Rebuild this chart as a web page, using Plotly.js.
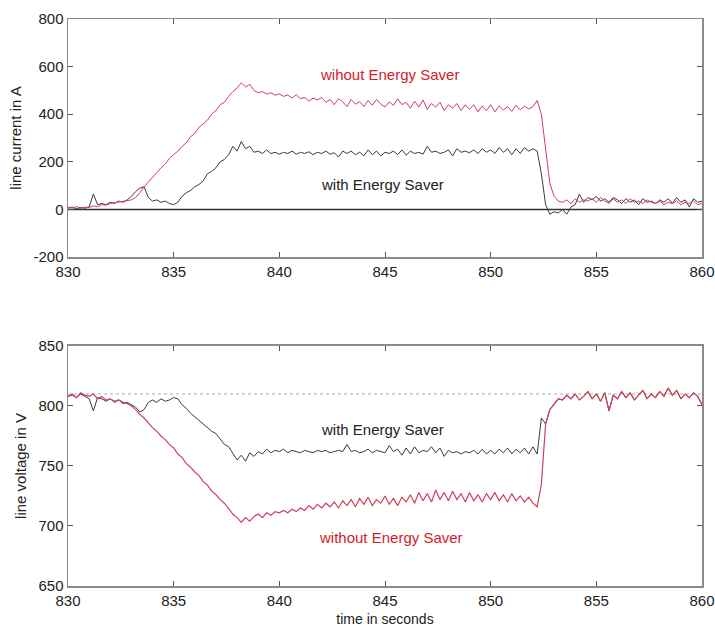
<!DOCTYPE html>
<html>
<head>
<meta charset="utf-8">
<script src="https://cdn.plot.ly/plotly-3.0.1.min.js"></script>
<style>html,body{margin:0;padding:0;background:#fff;}#chart{width:715px;height:627px;}</style>
</head>
<body>
<div id="chart"></div>
<script>
// time grid: 830.0 s to 860.0 s, sampled every 0.2 s (151 samples)
const tStart = 830, tStep = 0.2, nSamples = 151;

// line current in A, without Energy Saver
const currentWithout = [
 10,5,12,4,10,8,15,12,20,18,
 25,28,30,32,36,40,50,70,95,115,
 135,155,175,190,215,230,245,265,280,305,
 320,345,360,375,400,415,440,450,475,495,
 510,532,515,525,500,490,495,485,490,480,
 485,475,480,468,482,465,470,455,468,460,
 470,450,462,440,465,452,432,462,442,452,
 432,458,438,462,442,430,452,437,465,440,
 450,425,455,430,460,420,445,430,450,415,
 440,425,445,415,440,420,440,410,435,415,
 440,410,435,418,432,412,438,418,434,422,
 432,458,400,250,110,55,35,30,40,25,
 45,30,40,35,45,30,50,35,25,45,
 30,40,25,45,30,35,25,40,30,25,
 35,20,30,25,35,20,30,25,35,20,25
];

// line current in A, with Energy Saver
const currentWith = [
 5,10,3,8,5,10,65,20,25,20,
 30,25,35,30,40,55,75,90,95,50,
 35,40,30,35,25,20,30,55,70,80,
 95,105,120,150,160,175,200,210,230,265,
 245,285,255,265,240,245,235,250,235,240,
 232,240,235,245,232,240,235,242,230,240,
 235,245,232,238,220,245,235,245,230,240,
 225,250,230,245,225,240,235,245,230,250,
 228,245,235,240,232,265,240,245,235,240,
 250,225,255,240,245,238,250,235,255,240,
 250,235,260,240,255,230,255,235,260,245,
 255,245,150,20,-20,-10,-15,0,-20,10,
 20,65,30,50,40,55,35,45,30,50,
 40,25,45,30,40,20,45,30,35,25,
 40,30,45,25,50,30,40,10,45,30,35
];

// line voltage in V, without Energy Saver
const voltageWithout = [
 808,810,807,811,809,808,810,806,808,805,
 806,804,805,803,802,800,797,793,790,786,
 782,779,775,772,768,765,760,757,752,749,
 745,742,737,734,729,726,722,719,714,710,
 707,703,707,704,708,710,707,711,709,712,
 711,713,711,714,712,715,713,717,714,718,
 715,719,716,720,715,721,717,722,716,723,
 718,724,717,722,719,725,718,723,717,724,
 720,726,719,728,721,727,720,730,722,728,
 721,729,722,727,720,728,721,726,720,727,
 722,728,721,726,720,727,721,725,720,724,
 719,716,735,785,797,802,806,805,809,806,
 810,805,808,812,806,810,804,811,796,809,
 806,812,807,811,805,809,813,806,810,807,
 812,808,815,809,813,806,810,807,811,808,801
];

// line voltage in V, with Energy Saver
const voltageWith = [
 808,809,807,810,808,806,796,807,806,804,
 806,803,805,802,803,801,799,795,797,803,
 805,803,806,804,805,807,806,801,798,794,
 791,788,785,782,779,777,772,768,766,760,
 755,759,754,761,758,762,760,764,761,763,
 762,764,761,763,762,761,763,762,761,763,
 762,763,761,762,763,762,768,762,763,761,
 762,764,761,763,762,761,767,762,764,759,
 765,760,766,761,763,762,766,761,765,758,
 763,761,762,760,762,761,763,760,764,760,
 763,760,764,761,765,760,764,761,765,760,
 766,760,790,785,797,802,806,805,809,806,
 810,805,808,812,806,810,804,811,796,809,
 806,812,807,811,805,809,813,806,810,807,
 812,808,815,809,813,806,810,807,811,808,801
];

const nominalVoltage = 810;
const xTicks = [830, 835, 840, 845, 850, 855, 860];
const currentTicks = [-200, 0, 200, 400, 600, 800];
const voltageTicks = [650, 700, 750, 800, 850];

const time = [];
for (let i = 0; i < nSamples; i++) time.push(+(tStart + i * tStep).toFixed(1));

const RED = '#d0405a';
const DARK = '#3a3a3a';
const TXTRED = '#d4202c';

const traces = [
  {x: time, y: currentWith, xaxis: 'x', yaxis: 'y', mode: 'lines', line: {color: DARK, width: 1}, hoverinfo: 'skip'},
  {x: time, y: currentWithout, xaxis: 'x', yaxis: 'y', mode: 'lines', line: {color: RED, width: 1}, hoverinfo: 'skip'},
  {x: time, y: voltageWith, xaxis: 'x2', yaxis: 'y2', mode: 'lines', line: {color: DARK, width: 1}, hoverinfo: 'skip'},
  {x: time, y: voltageWithout, xaxis: 'x2', yaxis: 'y2', mode: 'lines', line: {color: RED, width: 1.2}, hoverinfo: 'skip'}
];

const FONT = 'Liberation Sans, Arial, sans-serif';
const axisCommon = {
  showline: true, linecolor: '#8a8a8a', linewidth: 1.5, mirror: 'ticks',
  ticks: 'inside', ticklen: 5, tickcolor: '#555', tickwidth: 1,
  showgrid: false, zeroline: false,
  tickfont: {family: FONT, size: 15, color: '#222'}
};

const layout = {
  width: 715, height: 627,
  margin: {l: 68, r: 13, t: 19, b: 41},
  paper_bgcolor: '#fff', plot_bgcolor: '#fff',
  showlegend: false,
  font: {family: FONT, color: '#222'},
  xaxis: Object.assign({}, axisCommon, {anchor: 'y', range: [830, 860], tickvals: xTicks, ticktext: xTicks.map(String)}),
  yaxis: Object.assign({}, axisCommon, {domain: [0.5802, 1], anchor: 'x', range: [-200, 800], tickvals: currentTicks, ticktext: currentTicks.map(String),
    title: {text: 'line current in A', font: {family: FONT, size: 15, color: '#222'}, standoff: 8}}),
  xaxis2: Object.assign({}, axisCommon, {anchor: 'y2', range: [830, 860], tickvals: xTicks, ticktext: xTicks.map(String),
    title: {text: 'time in seconds', font: {family: FONT, size: 14, color: '#222'}, standoff: 6}}),
  yaxis2: Object.assign({}, axisCommon, {domain: [0, 0.4233], anchor: 'x2', range: [650, 850], tickvals: voltageTicks, ticktext: voltageTicks.map(String),
    title: {text: 'line voltage in V', font: {family: FONT, size: 15, color: '#222'}, standoff: 8}}),
  shapes: [
    {type: 'line', xref: 'x domain', yref: 'y', x0: 0, x1: 1, y0: 0, y1: 0, line: {color: '#333', width: 1.5}, layer: 'below'},
    {type: 'line', xref: 'x2 domain', yref: 'y2', x0: 0, x1: 1, y0: nominalVoltage, y1: nominalVoltage, line: {color: '#aaa', width: 1, dash: 'dot'}, layer: 'below'}
  ],
  annotations: [
    {xref: 'x', yref: 'y', x: 845.2, y: 565, text: 'wihout Energy Saver', showarrow: false, font: {family: FONT, size: 15, color: TXTRED}},
    {xref: 'x', yref: 'y', x: 844.9, y: 105, text: 'with Energy Saver', showarrow: false, font: {family: FONT, size: 15, color: '#222'}},
    {xref: 'x2', yref: 'y2', x: 844.9, y: 780, text: 'with Energy Saver', showarrow: false, font: {family: FONT, size: 15, color: '#222'}},
    {xref: 'x2', yref: 'y2', x: 845.3, y: 690, text: 'without Energy Saver', showarrow: false, font: {family: FONT, size: 15, color: TXTRED}}
  ]
};

Plotly.newPlot('chart', traces, layout, {displayModeBar: false, staticPlot: true});
</script>
</body>
</html>
